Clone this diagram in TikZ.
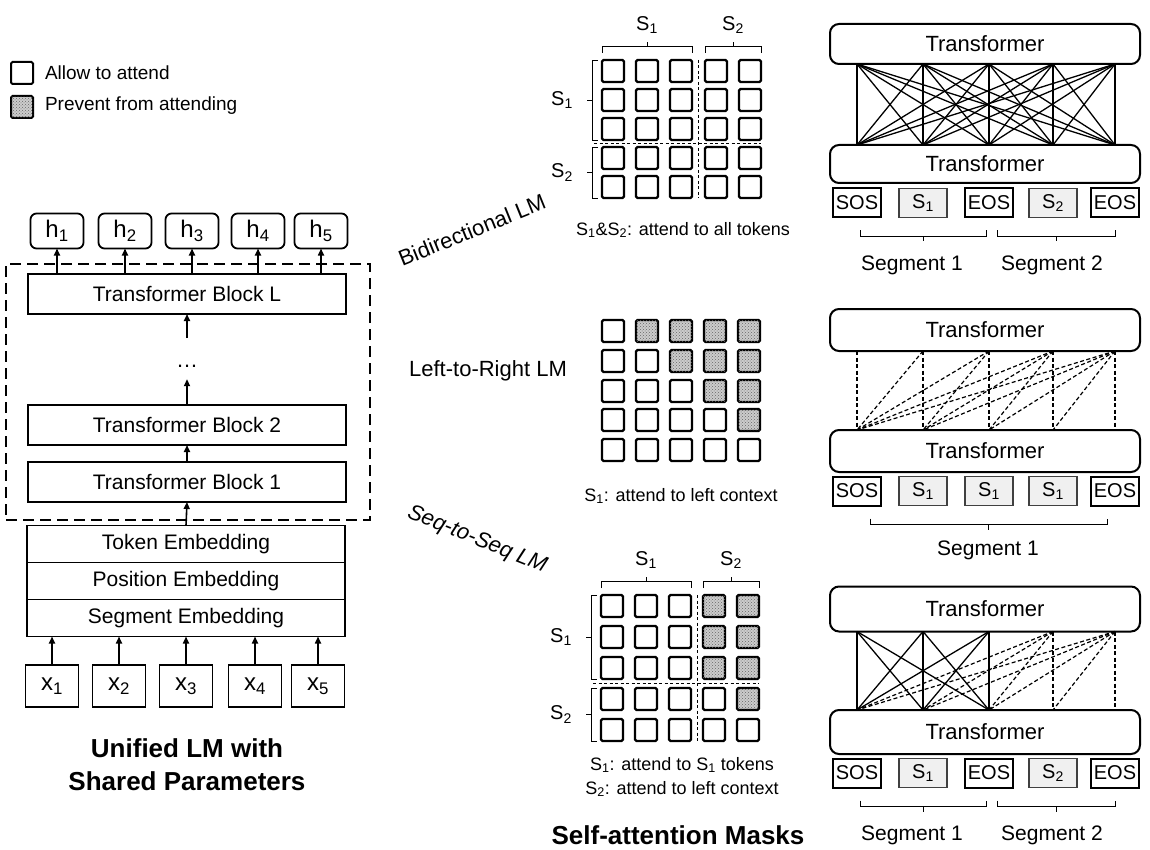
\documentclass[tikz,border=0pt]{standalone}
\usepackage{fontspec}
\setmainfont{Liberation Sans}
\usetikzlibrary{arrows.meta,patterns,calc}
\newcommand\myfs[1]{\fontsize{#1}{#1}\selectfont}
\newcommand\mybrT[3]{%
  \draw[brc] ($(#1.north west)+(0,-7)$) -- ++(0,-7) -- ($(#2.north east)+(0,-14)$) -- ++(0,7);
  \draw[brc] ($(#1.north west)!0.5!(#2.north east)+(0,-14)$) coordinate (#3) -- ++(0,-4);
}
\newcommand\mybrL[3]{%
  \draw[brc] ($(#1.north west)+(-4,0)$) -- ++(-6,0) -- ($(#2.south west)+(-10,0)$) -- ++(6,0);
  \draw[brc] ($(#1.north west)!0.5!(#2.south west)+(-10,0)$) coordinate (#3) -- ++(-5,0);
}
\newcommand\mybrB[3]{%
  \draw[brc] (#1) -- ++(0,6) -| (#2);
  \draw[brc] ($(#1)!0.5!(#2)+(0,6)$) coordinate (#3) -- ++(0,5);
}
\begin{document}
\begin{tikzpicture}[x=1pt,y=-1pt,
 every node/.style={inner sep=0pt, outer sep=0pt},
 lbl/.style={font=\myfs{20}},
 captxt/.style={font=\myfs{18}},
 blk/.style={draw, line width=1.8pt, minimum width=318pt, minimum height=40pt, font=\myfs{21}},
 emb/.style={draw, line width=1.8pt, minimum width=318pt, minimum height=37pt, font=\myfs{21}},
 hbox/.style={draw, line width=1.8pt, rounded corners=6pt, minimum width=53pt, minimum height=35pt, font=\myfs{24}},
 xbox/.style={draw, line width=1.8pt, minimum width=53pt, minimum height=42pt, font=\myfs{24}},
 arr/.style={line width=1.6pt, -{Triangle[length=7pt,width=6pt]}},
 cellw/.style={draw, line width=2.3pt, rounded corners=1.5pt, minimum width=22pt, minimum height=22pt, fill=white},
 cellp/.style={cellw, fill=gray!40, postaction={pattern=crosshatch dots, pattern color=black!60}},
 sepl/.style={dash pattern=on 3pt off 2.5pt, line width=1pt},
 brc/.style={line width=0.9pt},
 tfm/.style={draw, line width=2pt, rounded corners=9pt, minimum width=310pt, font=\myfs{22}},
 tokw/.style={draw, line width=2pt, minimum width=48pt, minimum height=29pt, font=\myfs{20}},
 toks/.style={tokw, fill=gray!12, draw=black!75, line width=1.5pt},
 att/.style={line width=1.3pt},
 attd/.style={line width=1.2pt, dash pattern=on 4pt off 2.5pt},
 segtxt/.style={font=\myfs{21}},
 rottxt/.style={font=\myfs{22}},
]
\useasboundingbox (0,0) rectangle (1150,850);

% ---------- legend ----------
\node[cellw, line width=2pt] (lg1) at (22,73) {};
\node[anchor=west, font=\myfs{19}] (lgt1) at (45,73) {Allow to attend};
\node[cellp, line width=2pt] (lg2) at (22,107) {};
\node[anchor=west, font=\myfs{19}] (lgt2) at (45,106) {Prevent from attending};

% ---------- left stack ----------
\foreach \i/\x in {1/57,2/125,3/192,4/258,5/321}
  \node[hbox] (h\i) at (\x,231) {h\textsubscript{\i}};
\node[draw, dash pattern=on 11pt off 6pt, line width=2pt, minimum width=364pt, minimum height=256pt] (dbox) at (188,392) {};
\node[blk] (tbL) at (187,294) {Transformer Block L};
\node[font=\myfs{22}] (dots) at (187,366) {\dots};
\coordinate (dtop) at (187,338);
\node[blk] (tb2) at (187,425) {Transformer Block 2};
\node[blk] (tb1) at (187,482) {Transformer Block 1};
\node[emb] (emb1) at (186,544) {Token Embedding};
\node[emb] (emb2) at (186,581) {Position Embedding};
\node[emb] (emb3) at (186,618) {Segment Embedding};
\foreach \i/\x in {1/52,2/119,3/186,4/255,5/318}{
  \node[xbox] (x\i) at (\x,686) {x\textsubscript{\i}};
  \draw[arr] (x\i.north) -- (x\i.north |- emb3.south);
}
\foreach \i in {1,...,5}
  \draw[arr] (tbL.north -| h\i) -- (h\i.south);
\draw[arr] (dtop) -- (tbL.south);
\draw[arr] (tb2.north) -- ([yshift=-12pt]dots.south);
\draw[arr] (tb1.north) -- (tb2.south);
\draw[arr] (emb1.north) -- (tb1.south);
\node[font=\bfseries\fontsize{26}{33}\selectfont, align=center] (title1) at (187,765) {Unified LM with\\Shared Parameters};

% ---------- bidirectional mask ----------
\foreach \r/\y in {1/71,2/100,3/129,4/158,5/187}
  \foreach \c/\x in {1/613,2/647,3/681,4/716,5/750}
    \node[cellw] (bd-\r-\c) at (\x,\y) {};
\draw[sepl] ($(bd-1-3.north east)!0.5!(bd-1-4.north west)$) -- ($(bd-5-3.south east)!0.5!(bd-5-4.south west)$);
\draw[sepl] ($(bd-3-1.south west)!0.5!(bd-4-1.north west)+(-8,0)$) -- ($(bd-3-5.south east)!0.5!(bd-4-5.north east)$);
\mybrT{bd-1-1}{bd-1-3}{bdT1}
\mybrT{bd-1-4}{bd-1-5}{bdT2}
\mybrL{bd-1-1}{bd-3-1}{bdL1}
\mybrL{bd-4-1}{bd-5-1}{bdL2}
\node[lbl] (bdt1) at ($(bdT1)+(0,-21)$) {S\textsubscript{1}};
\node[lbl] (bdt2) at ($(bdT2)+(0,-21)$) {S\textsubscript{2}};
\node[lbl] (bdl1) at ($(bdL1)+(-30,0)$) {S\textsubscript{1}};
\node[lbl] (bdl2) at ($(bdL2)+(-30,0)$) {S\textsubscript{2}};
\node[captxt] (bdc) at (683,230) {S\textsubscript{1}\&S\textsubscript{2}: attend to all tokens};
\node[rottxt, rotate=22] (bdn) at (472,230) {Bidirectional LM};

% ---------- left-to-right mask ----------
\foreach \r/\y in {1/331,2/361,3/391,4/420,5/450}
  \foreach \c/\x in {1/613,2/647,3/681,4/715,5/749}{
    \ifnum\c>\r
      \node[cellp] (lr-\r-\c) at (\x,\y) {};
    \else
      \node[cellw] (lr-\r-\c) at (\x,\y) {};
    \fi
  }
\node[font=\myfs{22}] (lrn) at (488,371) {Left-to-Right LM};
\node[captxt] (lrc) at (681,496) {S\textsubscript{1}: attend to left context};

% ---------- seq-to-seq mask ----------
\foreach \r/\y in {1/606,2/637,3/668,4/699,5/730}
  \foreach \c/\x in {1/612,2/646,3/680,4/714,5/748}{
    \pgfmathtruncatemacro\shd{(\c>3)&&(\c>\r)}
    \ifnum\shd=1
      \node[cellp] (ss-\r-\c) at (\x,\y) {};
    \else
      \node[cellw] (ss-\r-\c) at (\x,\y) {};
    \fi
  }
\draw[sepl] ($(ss-1-3.north east)!0.5!(ss-1-4.north west)$) -- ($(ss-5-3.south east)!0.5!(ss-5-4.south west)$);
\draw[sepl] ($(ss-3-1.south west)!0.5!(ss-4-1.north west)+(-8,0)$) -- ($(ss-3-5.south east)!0.5!(ss-4-5.north east)$);
\mybrT{ss-1-1}{ss-1-3}{ssT1}
\mybrT{ss-1-4}{ss-1-5}{ssT2}
\mybrL{ss-1-1}{ss-3-1}{ssL1}
\mybrL{ss-4-1}{ss-5-1}{ssL2}
\node[lbl] (sst1) at ($(ssT1)+(0,-21)$) {S\textsubscript{1}};
\node[lbl] (sst2) at ($(ssT2)+(0,-21)$) {S\textsubscript{2}};
\node[lbl] (ssl1) at ($(ssL1)+(-30,0)$) {S\textsubscript{1}};
\node[lbl] (ssl2) at ($(ssL2)+(-30,0)$) {S\textsubscript{2}};
\node[captxt] (ssc1) at (682,765) {S\textsubscript{1}: attend to S\textsubscript{1} tokens};
\node[captxt] (ssc2) at (682,789) {S\textsubscript{2}: attend to left context};
\node[rottxt, font=\itshape\myfs{22}, rotate=-22] (ssn) at (477,540) {Seq-to-Seq LM};
\node[font=\bfseries\myfs{26}] (masks) at (678,835) {Self-attention Masks};

% ---------- right: bidirectional ----------
\node[tfm, minimum height=40pt] (tA) at (985,44) {Transformer};
\node[tfm, minimum height=38pt] (tB) at (985,164) {Transformer};
\node[tokw] (tka1) at (857,203) {SOS};
\node[toks] (tka2) at (923,203) {S\textsubscript{1}};
\node[tokw] (tka3) at (989,203) {EOS};
\node[toks] (tka4) at (1053,203) {S\textsubscript{2}};
\node[tokw] (tka5) at (1115,203) {EOS};
\foreach \i in {1,...,5}
  \foreach \j in {1,...,5}
    \draw[att] (tA.south -| tka\i) -- (tB.north -| tka\j);
\coordinate (sa1) at ($(tka1.south)+(3,13)$);
\coordinate (sa2) at ($(tka3.south)+(-3,13)$);
\coordinate (sa3) at ($(tka3.south)+(8,13)$);
\coordinate (sa4) at ($(tka5.south)+(0,13)$);
\mybrB{sa1}{sa2}{sam1}
\mybrB{sa3}{sa4}{sam2}
\node[segtxt] (sga1) at (912,265) {Segment 1};
\node[segtxt] (sga2) at (1052,265) {Segment 2};

% ---------- right: left-to-right ----------
\node[tfm, minimum height=42pt] (mA) at (985,330) {Transformer};
\node[tfm, minimum height=42pt] (mB) at (985,451) {Transformer};
\node[tokw] (tkb1) at (857,491) {SOS};
\node[toks] (tkb2) at (923,491) {S\textsubscript{1}};
\node[toks] (tkb3) at (989,491) {S\textsubscript{1}};
\node[toks] (tkb4) at (1053,491) {S\textsubscript{1}};
\node[tokw] (tkb5) at (1115,491) {EOS};
\foreach \j in {1,...,5}
  \foreach \i in {1,...,\j}
    \draw[attd] (mA.south -| tkb\j) -- (mB.north -| tkb\i);
\coordinate (sb1) at ($(tkb1.south)+(13,13)$);
\coordinate (sb2) at ($(tkb5.south)+(-8,13)$);
\mybrB{sb1}{sb2}{sbm}
\node[segtxt] (sgb1) at (988,550) {Segment 1};

% ---------- right: seq-to-seq ----------
\node[tfm, minimum height=45pt] (sA) at (985,609) {Transformer};
\node[tfm, minimum height=44pt] (sB) at (985,732) {Transformer};
\node[tokw] (tkc1) at (857,773) {SOS};
\node[toks] (tkc2) at (923,773) {S\textsubscript{1}};
\node[tokw] (tkc3) at (989,773) {EOS};
\node[toks] (tkc4) at (1053,773) {S\textsubscript{2}};
\node[tokw] (tkc5) at (1115,773) {EOS};
\foreach \i in {1,2,3}
  \foreach \j in {1,2,3}
    \draw[att] (sA.south -| tkc\j) -- (sB.north -| tkc\i);
\foreach \j in {4,5}
  \foreach \i in {1,...,\j}
    \draw[attd] (sA.south -| tkc\j) -- (sB.north -| tkc\i);
\coordinate (sc1) at ($(tkc1.south)+(3,13)$);
\coordinate (sc2) at ($(tkc3.south)+(-3,13)$);
\coordinate (sc3) at ($(tkc3.south)+(8,13)$);
\coordinate (sc4) at ($(tkc5.south)+(0,13)$);
\mybrB{sc1}{sc2}{scm1}
\mybrB{sc3}{sc4}{scm2}
\node[segtxt] (sgc1) at (912,835) {Segment 1};
\node[segtxt] (sgc2) at (1052,835) {Segment 2};
\end{tikzpicture}
\end{document}
